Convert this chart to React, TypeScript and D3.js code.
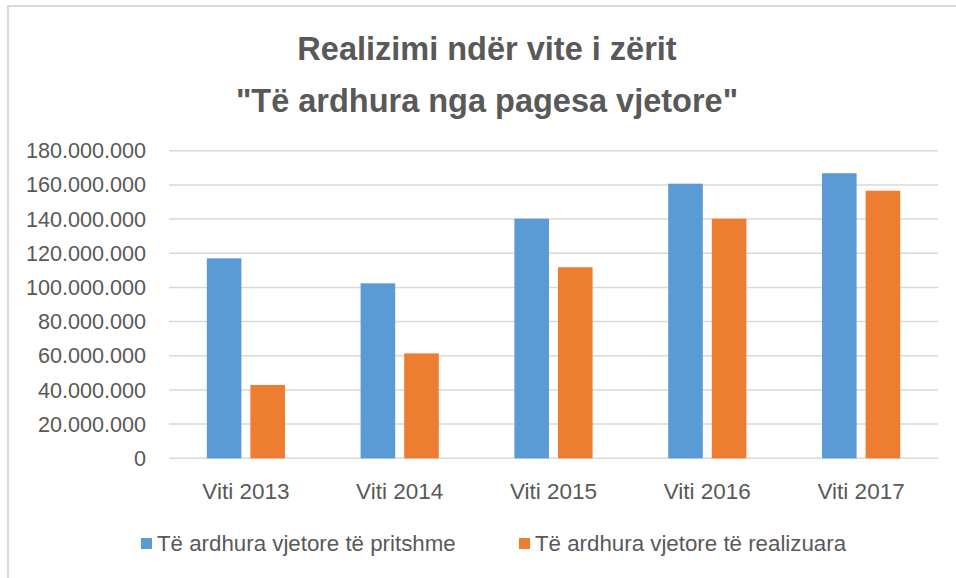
import React from "react";
import * as d3 from "d3";

const categories = ["Viti 2013", "Viti 2014", "Viti 2015", "Viti 2016", "Viti 2017"];
const seriesNames = ["Të ardhura vjetore të pritshme", "Të ardhura vjetore të realizuara"];
const expected = [117000000, 102400000, 140200000, 160700000, 166800000];
const realized = [42900000, 61400000, 111800000, 140200000, 156600000];
const yTicks = [0, 20000000, 40000000, 60000000, 80000000, 100000000, 120000000, 140000000, 160000000, 180000000];
const titleLines = ["Realizimi ndër vite i zërit", "\"Të ardhura nga pagesa vjetore\""];
const colors = ["#5B9BD5", "#ED7D31"];

const W = 956;
const H = 578;
const plotLeft = 169;
const plotRight = 938;
const plotTop = 150.7;
const plotBottom = 458.3;
const FONT = "'Liberation Sans', Arial, sans-serif";

const fmt = (v: number) => (v === 0 ? "0" : d3.format(",")(v).replace(/,/g, "."));

export default function App() {
  const x = d3.scaleBand<string>().domain(categories).range([plotLeft, plotRight]).paddingInner(0).paddingOuter(0);
  const y = d3.scaleLinear().domain([0, 180000000]).range([plotBottom, plotTop]);
  const bw = x.bandwidth();
  const barW = bw * 0.225;
  const gap = bw * 0.0585;
  const series = [expected, realized];

  return (
    <svg width={W} height={H} style={{ position: "absolute", left: 0, top: 0, background: "#fff" }}>
      <rect x={0} y={0} width={W} height={H} fill="#fff" />
      <rect x={8} y={6} width={W + 20} height={H + 20} fill="none" stroke="#D9D9D9" strokeWidth={2} />
      {titleLines.map((t, i) => (
        <text key={i} x={W / 2 + 9} y={60 + i * 52} textAnchor="middle" fontFamily={FONT} fontWeight="bold" fontSize={32.5} fill="#595959">
          {t}
        </text>
      ))}
      {yTicks.map((t) => (
        <g key={t}>
          <line x1={plotLeft} x2={plotRight} y1={y(t)} y2={y(t)} stroke="#D9D9D9" strokeWidth={1.5} />
          <text x={146} y={y(t)} dy="0.35em" textAnchor="end" fontFamily={FONT} fontSize={21.6} fill="#595959">
            {fmt(t)}
          </text>
        </g>
      ))}
      {categories.map((c, ci) => {
        const cx = (x(c) as number) + bw / 2;
        return (
          <g key={c}>
            {series.map((s, si) => {
              const bx = si === 0 ? cx - gap / 2 - barW : cx + gap / 2;
              return (
                <rect key={si} x={bx} y={y(s[ci])} width={barW} height={plotBottom - y(s[ci])} fill={colors[si]} />
              );
            })}
            <text x={cx} y={499} textAnchor="middle" fontFamily={FONT} fontSize={22.5} fill="#595959">
              {c}
            </text>
          </g>
        );
      })}
      {seriesNames.map((n, i) => {
        const lx = i === 0 ? 141 : 519;
        return (
          <g key={n}>
            <rect x={lx} y={538} width={11} height={11} fill={colors[i]} />
            <text x={lx + 16} y={551} fontFamily={FONT} fontSize={22.3} fill="#595959">
              {n}
            </text>
          </g>
        );
      })}
    </svg>
  );
}
